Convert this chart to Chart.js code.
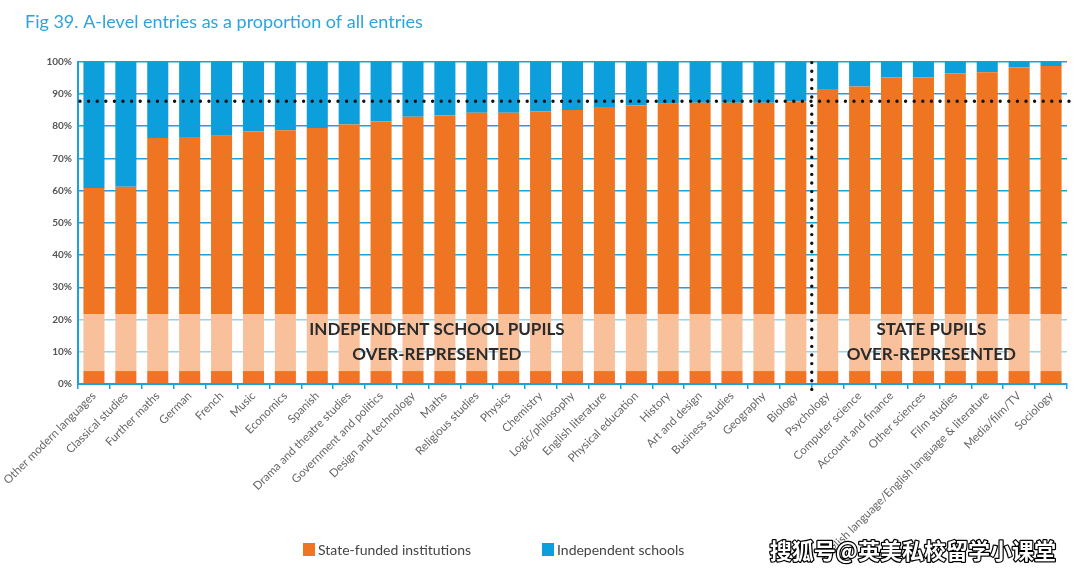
<!DOCTYPE html>
<html>
<head>
<meta charset="utf-8">
<script src="https://cdn.jsdelivr.net/npm/chart.js@4.4.0/dist/chart.umd.min.js"></script>
<style>
html, body { margin: 0; padding: 0; background: #fff; }
canvas { display: block; }
</style>
</head>
<body>
<canvas id="chart" width="1080" height="587"></canvas>
<script>
// subjects, ordered by state share
var subjects = ['Other modern languages', 'Classical studies', 'Further maths', 'German', 'French', 'Music',
    'Economics', 'Spanish', 'Drama and theatre studies', 'Government and politics', 'Design and technology',
    'Maths', 'Religious studies', 'Physics', 'Chemistry', 'Logic/philosophy', 'English literature',
    'Physical education', 'History', 'Art and design', 'Business studies', 'Geography', 'Biology',
    'Psychology', 'Computer science', 'Account and finance', 'Other sciences', 'Film studies',
    'English language/English language & literature', 'Media/film/TV', 'Sociology'];

var stateFunded = [60.8, 61.2, 76.3, 76.6, 77.0, 78.3, 78.7, 79.4, 80.5, 81.4, 82.9,
    83.3, 84.1, 84.1, 84.5, 85.0, 85.9, 86.4, 86.9, 87.2, 87.2, 87.2, 87.6,
    91.5, 92.3, 95.1, 95.1, 96.3, 96.7, 98.2, 98.6];

var independent = [39.2, 38.8, 23.7, 23.4, 23.0, 21.7, 21.3, 20.6, 19.5, 18.6, 17.1,
    16.7, 15.9, 15.9, 15.5, 15.0, 14.1, 13.6, 13.1, 12.8, 12.8, 12.8, 12.4,
    8.5, 7.7, 4.9, 4.9, 3.7, 3.3, 1.8, 1.4];

var averageState = 87.7;      // dotted horizontal line
var splitAfter = 'Biology';   // dotted vertical line
var band = [4, 21.7];         // pale band behind the labels

var orange = '#f07522';
var blue = '#0d9fdb';
var axisBlue = '#1ba1dc';
var font = 'Lato, "Open Sans", sans-serif';

var overlays = {
    id: 'overlays',
    afterDatasetsDraw: function (chart) {
        var ctx = chart.ctx, a = chart.chartArea;
        var x = chart.scales.x, y = chart.scales.y;
        var step = x.getPixelForValue(1) - x.getPixelForValue(0);
        var at = function (i) { return x.getPixelForValue(0) + i * step; };

        ctx.save();
        // pale band
        var yTop = y.getPixelForValue(band[1]), yBot = y.getPixelForValue(band[0]);
        ctx.fillStyle = 'rgba(255,255,255,0.55)';
        ctx.fillRect(a.left + 1, yTop, a.right - a.left - 1, yBot - yTop);

        // band captions
        ctx.fillStyle = '#2b2b2b';
        ctx.font = 'bold 17px ' + font;
        ctx.textAlign = 'center';
        ctx.textBaseline = 'middle';
        ctx.fillText('INDEPENDENT SCHOOL PUPILS', at(10.75), y.getPixelForValue(17));
        ctx.fillText('OVER-REPRESENTED', at(10.75), y.getPixelForValue(9));
        ctx.fillText('STATE PUPILS', at(26.25), y.getPixelForValue(17));
        ctx.fillText('OVER-REPRESENTED', at(26.25), y.getPixelForValue(9));

        // dotted lines
        ctx.strokeStyle = '#111';
        ctx.lineWidth = 3.4;
        ctx.lineCap = 'round';
        ctx.setLineDash([0, 8.6]);
        var ya = y.getPixelForValue(averageState);
        ctx.beginPath();
        ctx.moveTo(a.left + 2, ya);
        ctx.lineTo(chart.width - 5, ya);
        ctx.stroke();
        var i = subjects.indexOf(splitAfter);
        var xs = at(i + 0.5);
        ctx.beginPath();
        ctx.moveTo(xs, a.top + 1);
        ctx.lineTo(xs, a.bottom + 8);
        ctx.stroke();
        ctx.restore();
    },
    afterDraw: function (chart) {
        var ctx = chart.ctx;
        ctx.save();
        // legend
        var items = [[303, chart.data.datasets[0]], [542, chart.data.datasets[1]]];
        ctx.font = '14px ' + font;
        ctx.textBaseline = 'middle';
        ctx.textAlign = 'left';
        items.forEach(function (it) {
            ctx.fillStyle = it[1].backgroundColor;
            ctx.fillRect(it[0], 543, 12, 13);
            ctx.fillStyle = '#444';
            ctx.fillText(it[1].label, it[0] + 15, 550);
        });
        // watermark
        ctx.font = 'bold 22px "Noto Sans CJK SC"';
        ctx.textAlign = 'right';
        ctx.lineWidth = 2.5;
        ctx.strokeStyle = '#000';
        ctx.lineJoin = 'round';
        ctx.strokeText('搜狐号@英美私校留学小课堂', 1056, 551);
        ctx.fillStyle = '#fff';
        ctx.fillText('搜狐号@英美私校留学小课堂', 1056, 551);
        ctx.restore();
    }
};

new Chart(document.getElementById('chart').getContext('2d'), {
    type: 'bar',
    data: {
        labels: subjects,
        datasets: [{
            label: 'State-funded institutions',
            data: stateFunded,
            backgroundColor: orange,
            barPercentage: 0.66,
            categoryPercentage: 1
        }, {
            label: 'Independent schools',
            data: independent,
            backgroundColor: blue,
            barPercentage: 0.66,
            categoryPercentage: 1
        }]
    },
    options: {
        responsive: false,
        animation: false,
        layout: { padding: { left: 25, right: 13, top: 0, bottom: 0 } },
        plugins: {
            legend: { display: false },
            tooltip: { enabled: false },
            title: {
                display: true,
                text: 'Fig 39. A-level entries as a proportion of all entries',
                align: 'start',
                color: '#2ea3dc',
                font: { family: font, size: 18, weight: 'normal' },
                padding: { top: 11, bottom: 29 }
            }
        },
        scales: {
            x: {
                stacked: true,
                afterFit: function (s) { s.height = 203; },
                grid: { drawOnChartArea: false, color: axisBlue, tickLength: 5, lineWidth: 1.5 },
                border: { color: axisBlue, width: 2 },
                ticks: {
                    autoSkip: false,
                    minRotation: 45,
                    maxRotation: 45,
                    color: '#666',
                    padding: 0,
                    font: { family: font, size: 11.5 }
                }
            },
            y: {
                stacked: true,
                min: 0,
                max: 100,
                afterFit: function (s) { s.width = 53; },
                grid: { color: axisBlue, lineWidth: 1.5, drawTicks: false },
                border: { color: axisBlue, width: 2 },
                ticks: {
                    stepSize: 10,
                    color: '#555',
                    padding: 6,
                    font: { family: font, size: 10, weight: 'bold' },
                    callback: function (v) { return v + '%'; }
                }
            }
        }
    },
    plugins: [overlays]
});
</script>
</body>
</html>
